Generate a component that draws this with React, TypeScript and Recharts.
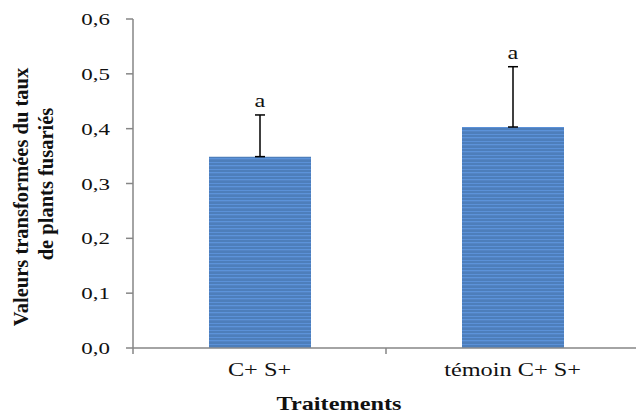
import React from "react";
import { BarChart, Bar, XAxis, YAxis, ErrorBar, LabelList } from "recharts";

const treatments = ["C+ S+", "témoin C+ S+"];
const means = [0.349, 0.403];
const errors = [0.076, 0.11];
const letters = ["a", "a"];
const yTicks = [0, 0.1, 0.2, 0.3, 0.4, 0.5, 0.6];

// error bars only go up, so the lower part is zero
const data = treatments.map((name, i) => ({
  name,
  value: means[i],
  err: [0, errors[i]],
  letter: letters[i]
}));

const FONT = "Liberation Serif, Tinos, Nimbus Roman, DejaVu Serif, serif";
const AXIS_GREY = "#868686";
const STRETCH = 1.35;

const CHART_W = 640;
const CHART_H = 413;
const Y_AXIS_W = 60;
const X_AXIS_H = 30;
const MARGIN = { top: 19, right: 1, bottom: 35, left: 73 };
const BAND = (CHART_W - MARGIN.left - Y_AXIS_W - MARGIN.right) / treatments.length;

const XTick = (props: any) => {
  const { x, y, payload } = props;
  return (
    <g>
      <line x1={x - BAND / 2} x2={x - BAND / 2} y1={y} y2={y + 6} stroke={AXIS_GREY} strokeWidth={1.5} />
      <text
        transform={`translate(${x},${y + 28}) scale(${STRETCH},1)`}
        textAnchor="middle"
        fontFamily={FONT}
        fontSize={18}
        fill="#111"
      >
        {payload.value}
      </text>
    </g>
  );
};

const YTick = (props: any) => {
  const { x, y, payload } = props;
  return (
    <text
      transform={`translate(${x},${y + 6}) scale(${STRETCH},1)`}
      textAnchor="end"
      fontFamily={FONT}
      fontSize={17}
      fill="#111"
    >
      {payload.value.toFixed(1).replace(".", ",")}
    </text>
  );
};

const LetterLabel = (props: any) => {
  const { x, y, width, height, index } = props;
  const d = data[index];
  // top of the error bar, in pixels, from the bar's own scale
  const top = y - (height / d.value) * d.err[1];
  return (
    <text
      transform={`translate(${x + width / 2},${top - 8}) scale(${STRETCH},1)`}
      textAnchor="middle"
      fontFamily={FONT}
      fontSize={18}
      fill="#111"
    >
      {d.letter}
    </text>
  );
};

const YTitle = () => (
  <g fontFamily={FONT} fontSize={20.5} fontWeight="bold" fill="#111">
    <text transform="translate(28,197) rotate(-90)" textAnchor="middle">
      Valeurs transformées du taux
    </text>
    <text transform="translate(53,184) rotate(-90)" textAnchor="middle">
      de plants fusariés
    </text>
  </g>
);

const XTitle = () => (
  <text
    transform={`translate(339,410) scale(${STRETCH},1)`}
    textAnchor="middle"
    fontFamily={FONT}
    fontSize={18}
    fontWeight="bold"
    fill="#111"
  >
    Traitements
  </text>
);

export default function App() {
  return (
    <div
      style={{
        position: "absolute",
        left: 0,
        top: 0,
        width: 636,
        height: 413,
        overflow: "hidden",
        background: "#fff"
      }}
    >
      <BarChart width={CHART_W} height={CHART_H} data={data} margin={MARGIN} barSize={102}>
        <defs>
          <pattern id="stripes" width="6" height="7" patternUnits="userSpaceOnUse">
            <rect width="6" height="7" fill="#4D7EBB" />
            <rect y="1" width="6" height="1" fill="#5B91D8" />
            <rect y="4" width="6" height="1" fill="#5C93DA" />
            <rect y="5" width="6" height="1" fill="#5384C4" />
          </pattern>
        </defs>
        <XAxis
          dataKey="name"
          height={X_AXIS_H}
          tick={<XTick />}
          tickLine={false}
          tickSize={0}
          tickMargin={0}
          axisLine={{ stroke: AXIS_GREY, strokeWidth: 1.5 }}
          interval={0}
          label={{ content: () => <XTitle /> }}
        />
        <YAxis
          width={Y_AXIS_W}
          domain={[0, 0.6]}
          ticks={yTicks}
          tick={<YTick />}
          tickSize={7}
          tickMargin={16}
          tickLine={{ stroke: AXIS_GREY, strokeWidth: 1.5 }}
          axisLine={{ stroke: AXIS_GREY, strokeWidth: 1.5 }}
          label={{ content: () => <YTitle /> }}
        />
        <Bar dataKey="value" fill="url(#stripes)" isAnimationActive={false}>
          <ErrorBar dataKey="err" direction="y" width={5} stroke="#000" strokeWidth={1.5} />
          <LabelList dataKey="letter" content={<LetterLabel />} />
        </Bar>
      </BarChart>
    </div>
  );
}
